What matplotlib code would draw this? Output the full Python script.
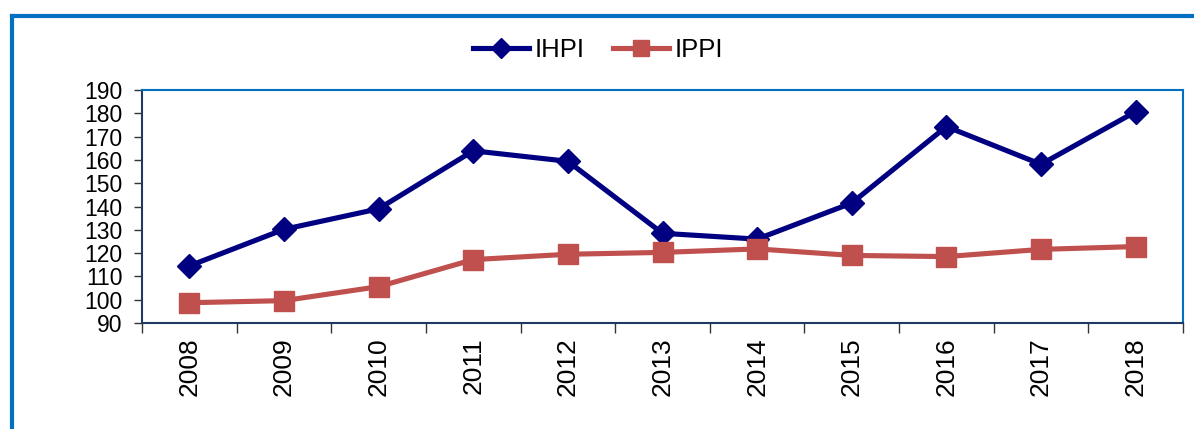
import matplotlib
matplotlib.use("Agg")
import matplotlib.pyplot as plt
from matplotlib.lines import Line2D

plt.rcParams['font.family'] = ['Liberation Sans', 'DejaVu Sans']

years = ['2008', '2009', '2010', '2011', '2012', '2013', '2014', '2015', '2016', '2017', '2018']
ihpi = [114.5, 130.2, 139.0, 163.9, 159.4, 128.5, 126.0, 141.5, 174.3, 158.1, 180.7]
ippi = [98.7, 99.6, 105.6, 117.2, 119.5, 120.3, 121.8, 119.0, 118.5, 121.6, 122.8]

fig = plt.figure(figsize=(11.94, 4.29), dpi=100)
ax = fig.add_axes([142 / 1194, 1 - 323 / 429, (1183 - 142) / 1194, (323 - 90) / 429])

x = range(len(years))
ax.plot(x, ihpi, color='#000080', lw=3.7, marker='D', ms=12.5, label='IHPI')
ax.plot(x, ippi, color='#C0504D', lw=3.7, marker='s', ms=14, label='IPPI')

ax.set_xlim(-0.5, len(years) - 0.5)
ax.set_ylim(90, 190)
ax.set_yticks(range(90, 191, 10))
ax.set_xticks([i - 0.5 for i in range(len(years) + 1)])
ax.set_xticklabels([])
ax.set_xticks(list(x), minor=True)
ax.set_xticklabels(years, minor=True, rotation=90, fontsize=19)
ax.tick_params(axis='x', which='minor', length=0, pad=10)
ax.tick_params(axis='x', which='major', length=7, width=1, color='#333333')
ax.tick_params(axis='y', length=6, width=1, color='#333333', labelsize=16.5, pad=8)

for s in ['top', 'right']:
    ax.spines[s].set_color('#0070C0')
    ax.spines[s].set_linewidth(1.5)
for s in ['left', 'bottom']:
    ax.spines[s].set_color('#1F3864')
    ax.spines[s].set_linewidth(1.5)

fig.legend(loc='center', bbox_to_anchor=(598 / 1194, 1 - 50 / 429), ncol=2, frameon=False,
           fontsize=18.5, handlelength=2.2, handletextpad=0.2, columnspacing=1.1,
           markerscale=0.8)

# outer blue frame (cropped on the right and bottom)
fig.add_artist(Line2D([12 / 1194, 12 / 1194], [0, 1 - 15.5 / 429], color='#0070C0', lw=3,
                      transform=fig.transFigure, solid_capstyle='projecting'))
fig.add_artist(Line2D([12 / 1194, 1], [1 - 15.5 / 429, 1 - 15.5 / 429], color='#0070C0', lw=3,
                      transform=fig.transFigure, solid_capstyle='projecting'))

fig.savefig('out.png', dpi=100)
